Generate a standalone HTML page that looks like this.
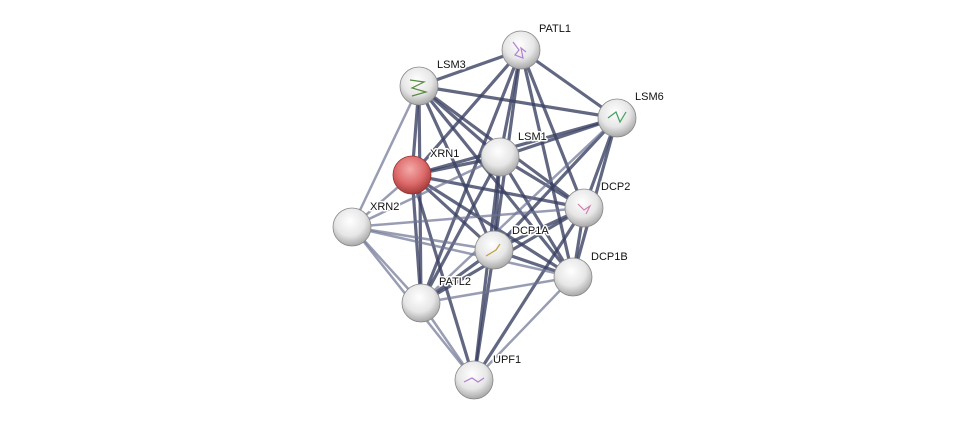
<!DOCTYPE html>
<html><head><meta charset="utf-8"><style>
html,body{margin:0;padding:0;background:#fff;}
svg{display:block}
text{font-family:"Liberation Sans",sans-serif;font-size:11px;fill:#111;stroke:#fff;stroke-width:3px;paint-order:stroke;stroke-linejoin:round;}
</style></head><body>
<svg width="976" height="426" viewBox="0 0 976 426" xmlns="http://www.w3.org/2000/svg">
<defs>
<radialGradient id="g" cx="45%" cy="35%" r="65%">
<stop offset="0" stop-color="#ffffff"/><stop offset="0.6" stop-color="#e6e6e6"/><stop offset="1" stop-color="#a8a8a8"/>
</radialGradient>
<radialGradient id="r" cx="45%" cy="35%" r="65%">
<stop offset="0" stop-color="#f4aaaa"/><stop offset="0.6" stop-color="#dd6a6a"/><stop offset="1" stop-color="#a33a3a"/>
</radialGradient>
</defs>
<g stroke-linecap="round">
<g stroke="#3b4163" stroke-opacity="0.8" stroke-width="3.2">
<line x1="521" y1="50" x2="419" y2="86"/>
<line x1="521" y1="50" x2="617" y2="118"/>
<line x1="521" y1="50" x2="500" y2="157"/>
<line x1="521" y1="50" x2="412" y2="175"/>
<line x1="521" y1="50" x2="584" y2="208"/>
<line x1="521" y1="50" x2="494" y2="250"/>
<line x1="521" y1="50" x2="573" y2="277"/>
<line x1="521" y1="50" x2="421" y2="303"/>
<line x1="419" y1="86" x2="617" y2="118"/>
<line x1="419" y1="86" x2="500" y2="157"/>
<line x1="419" y1="86" x2="412" y2="175"/>
<line x1="419" y1="86" x2="584" y2="208"/>
<line x1="419" y1="86" x2="494" y2="250"/>
<line x1="419" y1="86" x2="573" y2="277"/>
<line x1="419" y1="86" x2="421" y2="303"/>
<line x1="617" y1="118" x2="500" y2="157"/>
<line x1="617" y1="118" x2="412" y2="175"/>
<line x1="617" y1="118" x2="584" y2="208"/>
<line x1="617" y1="118" x2="494" y2="250"/>
<line x1="617" y1="118" x2="573" y2="277"/>
<line x1="500" y1="157" x2="412" y2="175"/>
<line x1="500" y1="157" x2="584" y2="208"/>
<line x1="500" y1="157" x2="494" y2="250"/>
<line x1="500" y1="157" x2="573" y2="277"/>
<line x1="500" y1="157" x2="421" y2="303"/>
<line x1="500" y1="157" x2="474" y2="380"/>
<line x1="412" y1="175" x2="584" y2="208"/>
<line x1="412" y1="175" x2="494" y2="250"/>
<line x1="412" y1="175" x2="573" y2="277"/>
<line x1="412" y1="175" x2="421" y2="303"/>
<line x1="412" y1="175" x2="474" y2="380"/>
<line x1="584" y1="208" x2="494" y2="250"/>
<line x1="584" y1="208" x2="573" y2="277"/>
<line x1="584" y1="208" x2="421" y2="303"/>
<line x1="584" y1="208" x2="474" y2="380"/>
<line x1="494" y1="250" x2="573" y2="277"/>
<line x1="494" y1="250" x2="421" y2="303"/>
<line x1="494" y1="250" x2="474" y2="380"/>
</g>
<g stroke="#6e7493" stroke-opacity="0.7" stroke-width="2.5">
<line x1="352" y1="227" x2="419" y2="86"/>
<line x1="352" y1="227" x2="412" y2="175"/>
<line x1="352" y1="227" x2="500" y2="157"/>
<line x1="352" y1="227" x2="584" y2="208"/>
<line x1="352" y1="227" x2="494" y2="250"/>
<line x1="352" y1="227" x2="573" y2="277"/>
<line x1="352" y1="227" x2="421" y2="303"/>
<line x1="352" y1="227" x2="474" y2="380"/>
<line x1="421" y1="303" x2="573" y2="277"/>
<line x1="421" y1="303" x2="474" y2="380"/>
<line x1="573" y1="277" x2="474" y2="380"/>
<line x1="617" y1="118" x2="421" y2="303"/>
</g>
</g>
<g stroke="#888" stroke-width="0.8">
<circle cx="521" cy="50" r="19" fill="url(#g)"/>
<circle cx="419" cy="86" r="19" fill="url(#g)"/>
<circle cx="617" cy="118" r="19" fill="url(#g)"/>
<circle cx="500" cy="157" r="19" fill="url(#g)"/>
<circle cx="412" cy="175" r="19" fill="url(#r)" stroke="#933"/>
<circle cx="584" cy="208" r="19" fill="url(#g)"/>
<circle cx="352" cy="227" r="19" fill="url(#g)"/>
<circle cx="494" cy="250" r="19" fill="url(#g)"/>
<circle cx="573" cy="277" r="19" fill="url(#g)"/>
<circle cx="421" cy="303" r="19" fill="url(#g)"/>
<circle cx="474" cy="380" r="19" fill="url(#g)"/>
</g>
<g fill="none" stroke-width="1.2">
<path d="M513 42 l6 8 l-4 5 l8 3 l-2 -10 l5 4" stroke="#b080d0"/>
<path d="M410 80 l14 2 l-12 6 l14 4 l-14 4" stroke="#5a8a40"/>
<path d="M608 118 l8 -6 l4 10 l6 -10" stroke="#40a060"/>
<path d="M578 204 l6 6 l6 -4 l-4 8" stroke="#d080b0"/>
<path d="M486 256 l10 -6 l4 -6" stroke="#c0a040"/>
<path d="M464 382 l8 -4 l6 4 l6 -4" stroke="#b080d0"/>
</g>
<text x="539" y="32">PATL1</text>
<text x="437" y="68">LSM3</text>
<text x="635" y="100">LSM6</text>
<text x="518" y="140">LSM1</text>
<text x="430" y="157">XRN1</text>
<text x="601" y="190">DCP2</text>
<text x="370" y="210">XRN2</text>
<text x="512" y="234">DCP1A</text>
<text x="591" y="260">DCP1B</text>
<text x="439" y="285">PATL2</text>
<text x="493" y="363">UPF1</text>
</svg>
</body></html>
